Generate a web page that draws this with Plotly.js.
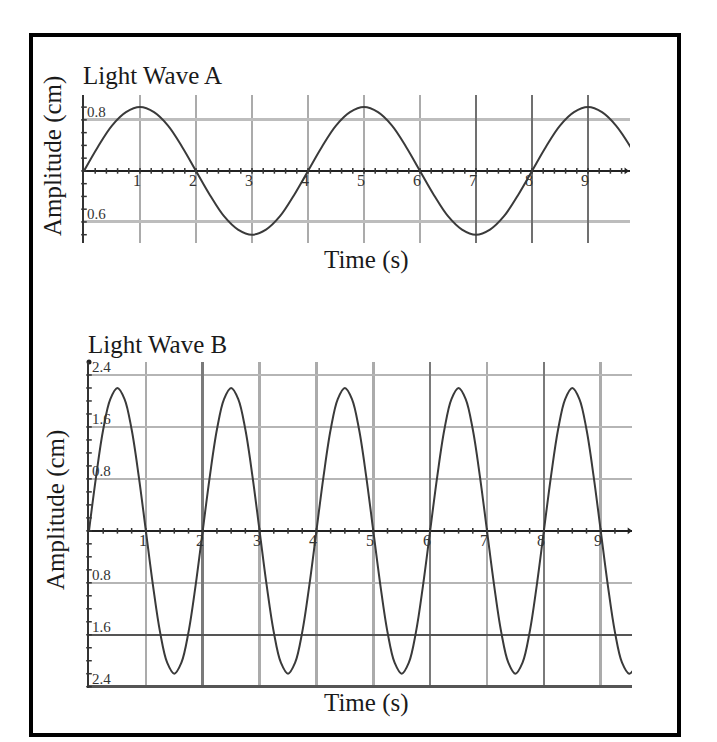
<!DOCTYPE html>
<html>
<head>
<meta charset="utf-8">
<script src="https://cdn.plot.ly/plotly-3.0.1.min.js"></script>
<style>
  html, body { margin: 0; padding: 0; background: #fff; }
  #wrap { position: relative; width: 717px; height: 742px; }
  #chart { position: absolute; left: 0; top: 0; width: 717px; height: 742px; }
  #frame { position: absolute; left: 29px; top: 33px; width: 652px; height: 704px;
           border: 4px solid #000; box-sizing: border-box; pointer-events: none; }
</style>
</head>
<body>
<div id="wrap"><div id="chart"></div><div id="frame"></div></div>
<script>
// ---- Data ----
// Light Wave A (period ~4 s, amplitude ~1.0 cm)
const timeA = [0, 0.25, 0.5, 0.75, 1, 1.25, 1.5, 1.75, 2, 2.25, 2.5, 2.75, 3, 3.25, 3.5, 3.75,
               4, 4.25, 4.5, 4.75, 5, 5.25, 5.5, 5.75, 6, 6.25, 6.5, 6.75, 7, 7.25, 7.5, 7.75,
               8, 8.25, 8.5, 8.75, 9, 9.25, 9.5, 9.77];
const ampA  = [0, 0.38, 0.71, 0.92, 1.0, 0.92, 0.71, 0.38, 0, -0.38, -0.71, -0.92, -1.0, -0.92, -0.71, -0.38,
               0, 0.38, 0.71, 0.92, 1.0, 0.92, 0.71, 0.38, 0, -0.38, -0.71, -0.92, -1.0, -0.92, -0.71, -0.38,
               0, 0.38, 0.71, 0.92, 1.0, 0.92, 0.71, 0.36];

// Light Wave B (period ~2 s, amplitude ~2.2 cm)
const timeB = [0, 0.125, 0.25, 0.375, 0.5, 0.625, 0.75, 0.875, 1, 1.125, 1.25, 1.375, 1.5, 1.625, 1.75, 1.875,
               2, 2.125, 2.25, 2.375, 2.5, 2.625, 2.75, 2.875, 3, 3.125, 3.25, 3.375, 3.5, 3.625, 3.75, 3.875,
               4, 4.125, 4.25, 4.375, 4.5, 4.625, 4.75, 4.875, 5, 5.125, 5.25, 5.375, 5.5, 5.625, 5.75, 5.875,
               6, 6.125, 6.25, 6.375, 6.5, 6.625, 6.75, 6.875, 7, 7.125, 7.25, 7.375, 7.5, 7.625, 7.75, 7.875,
               8, 8.125, 8.25, 8.375, 8.5, 8.625, 8.75, 8.875, 9, 9.125, 9.25, 9.375, 9.5, 9.56];
const ampB  = [0, 0.84, 1.56, 2.03, 2.2, 2.03, 1.56, 0.84, 0, -0.84, -1.56, -2.03, -2.2, -2.03, -1.56, -0.84,
               0, 0.84, 1.56, 2.03, 2.2, 2.03, 1.56, 0.84, 0, -0.84, -1.56, -2.03, -2.2, -2.03, -1.56, -0.84,
               0, 0.84, 1.56, 2.03, 2.2, 2.03, 1.56, 0.84, 0, -0.84, -1.56, -2.03, -2.2, -2.03, -1.56, -0.84,
               0, 0.84, 1.56, 2.03, 2.2, 2.03, 1.56, 0.84, 0, -0.84, -1.56, -2.03, -2.2, -2.03, -1.56, -0.84,
               0, 0.84, 1.56, 2.03, 2.2, 2.03, 1.56, 0.84, 0, -0.84, -1.56, -2.03, -2.2, -2.16];

// Tick labels
const xTickVals = [1, 2, 3, 4, 5, 6, 7, 8, 9];
const xTickText = ['1', '2', '3', '4', '5', '6', '7', '8', '9'];
const yTickValsA = [0.8, -0.8];
const yTickTextA = ['0.8', '0.6'];
const yTickValsB = [2.4, 1.6, 0.8, -0.8, -1.6, -2.4];
const yTickTextB = ['2.4', '1.6', '0.8', '0.8', '1.6', '2.4'];

// Gridline shading (light vs dark lines in the picture)
const xGridLightA = [1, 2, 3, 4, 5, 6];
const xGridDarkA  = [7, 8, 9];
const xGridLightB = [1, 3, 4, 5, 7, 9];
const xGridDarkB  = [2, 6, 8];
const yGridLightB = [2.4, 1.6, 0.8, -0.8];
const yGridDarkB  = [-1.6, -2.4];

// Titles
const titleA = 'Light Wave A';
const titleB = 'Light Wave B';
const xTitle = 'Time (s)';
const yTitle = 'Amplitude (cm)';

// ---- helpers ----
const W = 717, H = 742;
const px = v => v / W;
const py = v => 1 - v / H;
function steps(a, b, s) { const out = []; for (let v = a; v <= b + 1e-9; v += s) out.push(+v.toFixed(3)); return out; }

const serif = 'Liberation Serif, Times New Roman, serif';
const txt = '#1a1a1a';
const waveColor = '#3a3a3a';

const xRangeA = [0, 9.75], yRangeA = [-1.13, 1.19];
const xRangeB = [0, 9.55], yRangeB = [-2.42, 2.6];

const domXA = [px(84), px(630)], domYA = [py(243), py(95)];
const domXB = [px(89), px(632)], domYB = [py(688), py(362)];

const xMinA = steps(0.2, 9.6, 0.2), yMinA = steps(-1.0, 1.0, 0.2);
const xMinB = steps(0.25, 9.25, 0.25), yMinB = steps(-2.4, 2.4, 0.2);

const tickMark = (sym) => ({symbol: sym, size: 4, line: {color: '#333', width: 1.5}});

const traces = [
  // axis tick marks A
  {x: xMinA, y: xMinA.map(() => 0), xaxis: 'x', yaxis: 'y', mode: 'markers', marker: tickMark('line-ns'), hoverinfo: 'skip'},
  {x: yMinA.map(() => 0), y: yMinA, xaxis: 'x', yaxis: 'y', mode: 'markers', marker: tickMark('line-ew'), hoverinfo: 'skip', cliponaxis: false},
  {x: [9.68], y: [0], xaxis: 'x', yaxis: 'y', mode: 'markers', marker: {symbol: 'triangle-right', size: 6, color: '#222'}, hoverinfo: 'skip', cliponaxis: false},
  // axis tick marks B
  {x: xMinB, y: xMinB.map(() => 0), xaxis: 'x2', yaxis: 'y2', mode: 'markers', marker: tickMark('line-ns'), hoverinfo: 'skip'},
  {x: yMinB.map(() => 0), y: yMinB, xaxis: 'x2', yaxis: 'y2', mode: 'markers', marker: tickMark('line-ew'), hoverinfo: 'skip', cliponaxis: false},
  {x: [9.5], y: [0], xaxis: 'x2', yaxis: 'y2', mode: 'markers', marker: {symbol: 'triangle-right', size: 6, color: '#222'}, hoverinfo: 'skip', cliponaxis: false},
  {x: [0], y: [2.6], xaxis: 'x2', yaxis: 'y2', mode: 'markers', marker: {symbol: 'circle', size: 5, color: '#222'}, hoverinfo: 'skip', cliponaxis: false},
  // overlay axes activators
  {x: [0], y: [0], xaxis: 'x3', yaxis: 'y', mode: 'markers', marker: {opacity: 0}, hoverinfo: 'skip'},
  {x: [0], y: [0], xaxis: 'x4', yaxis: 'y4', mode: 'markers', marker: {opacity: 0}, hoverinfo: 'skip'},
  // waves
  {x: timeA, y: ampA, xaxis: 'x', yaxis: 'y', mode: 'lines', line: {color: waveColor, width: 2, shape: 'spline', smoothing: 1}, hoverinfo: 'skip'},
  {x: timeB, y: ampB, xaxis: 'x2', yaxis: 'y2', mode: 'lines', line: {color: waveColor, width: 2, shape: 'spline', smoothing: 1}, hoverinfo: 'skip'}
];

function gridAxis(domain, range, vals, color, width, anchor, overlay) {
  const a = {domain: domain, range: range, tickmode: 'array', tickvals: vals, showticklabels: false, ticks: '',
             showgrid: true, gridcolor: color, gridwidth: width, zeroline: false, showline: false, fixedrange: true, anchor: anchor};
  if (overlay) a.overlaying = overlay;
  return a;
}

const layout = {
  width: W, height: H,
  margin: {l: 0, r: 0, t: 0, b: 0},
  paper_bgcolor: '#fff', plot_bgcolor: 'rgba(0,0,0,0)',
  showlegend: false,
  // chart A
  xaxis: gridAxis(domXA, xRangeA, xGridLightA, '#ababab', 2.5, 'y'),
  yaxis: Object.assign(gridAxis(domYA, yRangeA, yTickValsA, '#bdbdbd', 3, 'x'),
         {zeroline: true, zerolinecolor: '#222', zerolinewidth: 2, showline: true, linecolor: '#333', linewidth: 2}),
  xaxis3: gridAxis(domXA, xRangeA, xGridDarkA, '#707070', 2.5, 'y', 'x'),
  // chart B
  xaxis2: gridAxis(domXB, xRangeB, xGridLightB, '#ababab', 2.5, 'y2'),
  yaxis2: Object.assign(gridAxis(domYB, yRangeB, yGridLightB, '#b5b5b5', 2.5, 'x2'),
         {zeroline: true, zerolinecolor: '#222', zerolinewidth: 2, showline: true, linecolor: '#333', linewidth: 2}),
  xaxis4: gridAxis(domXB, xRangeB, xGridDarkB, '#7a7a7a', 2.5, 'y2', 'x2'),
  yaxis4: gridAxis(domYB, yRangeB, yGridDarkB, '#555555', 2.5, 'x2', 'y2'),
  annotations: []
};

const A = layout.annotations;
const tf = (s, c) => ({family: serif, size: s, color: c || txt});
// titles
A.push({text: titleA, xref: 'paper', yref: 'paper', x: px(81), y: py(75), xanchor: 'left', yanchor: 'middle', showarrow: false, font: tf(25)});
A.push({text: titleB, xref: 'paper', yref: 'paper', x: px(86), y: py(344), xanchor: 'left', yanchor: 'middle', showarrow: false, font: tf(25)});
A.push({text: xTitle, xref: 'paper', yref: 'paper', x: px(366), y: py(260), xanchor: 'center', yanchor: 'middle', showarrow: false, font: tf(25)});
A.push({text: xTitle, xref: 'paper', yref: 'paper', x: px(366), y: py(703), xanchor: 'center', yanchor: 'middle', showarrow: false, font: tf(25)});
A.push({text: yTitle, xref: 'paper', yref: 'paper', x: px(53), y: py(156), xanchor: 'center', yanchor: 'middle', textangle: -90, showarrow: false, font: tf(25)});
A.push({text: yTitle, xref: 'paper', yref: 'paper', x: px(56), y: py(510), xanchor: 'center', yanchor: 'middle', textangle: -90, showarrow: false, font: tf(25)});
// tick labels
xTickVals.forEach((v, i) => {
  A.push({text: xTickText[i], xref: 'x', yref: 'y', x: v, y: 0, xanchor: 'center', yanchor: 'middle', xshift: -3, yshift: -10, showarrow: false, font: tf(16, '#333')});
  A.push({text: xTickText[i], xref: 'x2', yref: 'y2', x: v, y: 0, xanchor: 'center', yanchor: 'middle', xshift: -3, yshift: -10, showarrow: false, font: tf(16, '#333')});
});
yTickValsA.forEach((v, i) => {
  A.push({text: yTickTextA[i], xref: 'x', yref: 'y', x: 0, y: v, xanchor: 'left', yanchor: 'middle', xshift: 1, yshift: 8, showarrow: false, font: tf(15, '#333')});
});
yTickValsB.forEach((v, i) => {
  A.push({text: yTickTextB[i], xref: 'x2', yref: 'y2', x: 0, y: v, xanchor: 'left', yanchor: 'middle', xshift: 1, yshift: 8, showarrow: false, font: tf(15, '#333')});
});

Plotly.newPlot('chart', traces, layout, {staticPlot: true, displayModeBar: false});
</script>
</body>
</html>
